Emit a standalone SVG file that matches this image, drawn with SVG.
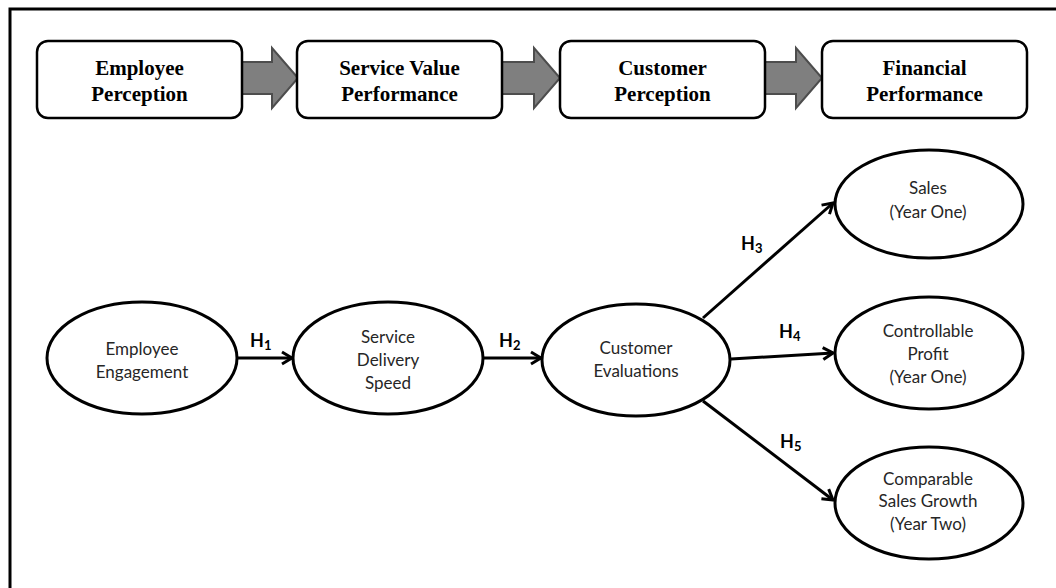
<svg xmlns="http://www.w3.org/2000/svg" width="1056" height="588" viewBox="0 0 1056 588">
  <style>
    .frame { fill: none; stroke: #000; stroke-width: 3; }
    .box { fill: #fff; stroke: #000; stroke-width: 2.5; }
    .block { fill: #7f7f7f; stroke: #4d4d4d; stroke-width: 2; stroke-linejoin: miter; }
    .btxt { font-family: "Liberation Serif", serif; font-weight: bold; font-size: 21px; fill: #000; text-anchor: middle; }
    .node { fill: #fff; stroke: #000; stroke-width: 3; }
    .ntxt { font-family: Lato, "Open Sans", sans-serif; font-size: 17px; fill: #262626; text-anchor: middle; }
    .edge { fill: none; stroke: #000; stroke-width: 3; }
    .htxt { font-family: Lato, "Open Sans", sans-serif; font-weight: bold; font-size: 18px; fill: #000; }
    .sub { font-size: 13px; }
  </style>
  <defs>
    <marker id="open" markerUnits="userSpaceOnUse" markerWidth="16" markerHeight="16" viewBox="0 0 16 16" refX="14" refY="8" orient="auto">
      <path d="M4,2 L14,8 L4,14" fill="none" stroke="#000" stroke-width="3" stroke-linejoin="miter"/>
    </marker>
  </defs>
  <rect width="1056" height="588" fill="#fff"/>
  <!-- outer frame: only the top and left edges fall inside the canvas -->
  <path class="frame" d="M10,588 L10,9 L1056,9"/>

  <!-- service profit chain header -->
  <g id="chain">
    <g id="block-1"><path class="block" d="M242,62 L272,62 L272,48 L298,78 L272,108 L272,94 L242,94 Z"/></g>
    <g id="block-2"><path class="block" d="M502,62 L534,62 L534,48 L560,78 L534,108 L534,94 L502,94 Z"/></g>
    <g id="block-3"><path class="block" d="M765,62 L796,62 L796,48 L822,78 L796,108 L796,94 L765,94 Z"/></g>
    <g id="stage-employee">
      <rect class="box" x="37" y="41" width="205" height="77" rx="11"/>
      <text class="btxt" x="139.5" y="75">Employee</text>
      <text class="btxt" x="139.5" y="101">Perception</text>
    </g>
    <g id="stage-service">
      <rect class="box" x="297" y="41" width="205" height="77" rx="11"/>
      <text class="btxt" x="399.5" y="75">Service Value</text>
      <text class="btxt" x="399.5" y="101">Performance</text>
    </g>
    <g id="stage-customer">
      <rect class="box" x="560" y="41" width="205" height="77" rx="11"/>
      <text class="btxt" x="662.5" y="75">Customer</text>
      <text class="btxt" x="662.5" y="101">Perception</text>
    </g>
    <g id="stage-financial">
      <rect class="box" x="822" y="41" width="205" height="77" rx="11"/>
      <text class="btxt" x="924.5" y="75">Financial</text>
      <text class="btxt" x="924.5" y="101">Performance</text>
    </g>
  </g>

  <!-- hypothesised paths -->
  <g id="connectors">
    <line class="edge" x1="237" y1="358" x2="292" y2="358" marker-end="url(#open)"/>
    <line class="edge" x1="483" y1="358" x2="541" y2="358" marker-end="url(#open)"/>
    <line class="edge" x1="703" y1="318" x2="833" y2="203" marker-end="url(#open)"/>
    <line class="edge" x1="731" y1="359" x2="833" y2="353" marker-end="url(#open)"/>
    <line class="edge" x1="703" y1="401" x2="833" y2="500" marker-end="url(#open)"/>
    <text class="htxt" x="250" y="347">H<tspan class="sub" dy="3">1</tspan></text>
    <text class="htxt" x="499" y="347">H<tspan class="sub" dy="3">2</tspan></text>
    <text class="htxt" x="741" y="250">H<tspan class="sub" dy="3">3</tspan></text>
    <text class="htxt" x="779" y="338">H<tspan class="sub" dy="3">4</tspan></text>
    <text class="htxt" x="780" y="448">H<tspan class="sub" dy="3">5</tspan></text>
  </g>

  <g id="employee-engagement">
    <ellipse class="node" cx="142" cy="358" rx="95" ry="56"/>
    <text class="ntxt" x="142" y="355">Employee</text>
    <text class="ntxt" x="142" y="378">Engagement</text>
  </g>
  <g id="service-delivery-speed">
    <ellipse class="node" cx="388" cy="358" rx="95" ry="56"/>
    <text class="ntxt" x="388" y="343">Service</text>
    <text class="ntxt" x="388" y="366">Delivery</text>
    <text class="ntxt" x="388" y="389">Speed</text>
  </g>
  <g id="customer-evaluations">
    <ellipse class="node" cx="636" cy="360" rx="94" ry="56"/>
    <text class="ntxt" x="636" y="354">Customer</text>
    <text class="ntxt" x="636" y="377">Evaluations</text>
  </g>
  <g id="sales">
    <ellipse class="node" cx="929" cy="204" rx="94" ry="54"/>
    <text class="ntxt" x="928" y="194">Sales</text>
    <text class="ntxt" x="928" y="218">(Year One)</text>
  </g>
  <g id="controllable-profit">
    <ellipse class="node" cx="929" cy="353" rx="94" ry="56"/>
    <text class="ntxt" x="928" y="337">Controllable</text>
    <text class="ntxt" x="928" y="360">Profit</text>
    <text class="ntxt" x="928" y="383">(Year One)</text>
  </g>
  <g id="comparable-sales-growth">
    <ellipse class="node" cx="929" cy="503" rx="94" ry="56"/>
    <text class="ntxt" x="928" y="485">Comparable</text>
    <text class="ntxt" x="928" y="507">Sales Growth</text>
    <text class="ntxt" x="928" y="530">(Year Two)</text>
  </g>
</svg>
